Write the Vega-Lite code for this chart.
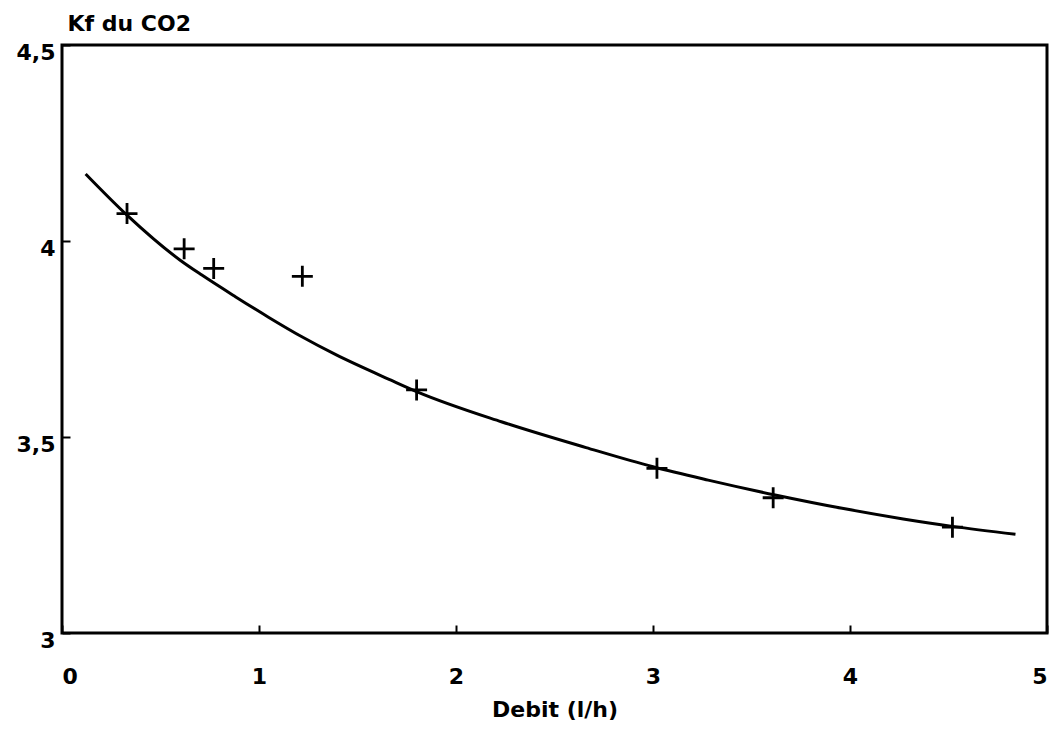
{
  "$schema": "https://vega.github.io/schema/vega-lite/v6.json",
  "width": 985,
  "height": 588,
  "autosize": {"type": "none"},
  "padding": {"left": 62, "top": 45, "right": 8, "bottom": 105},
  "background": "white",
  "config": {
    "view": {"stroke": "black", "strokeWidth": 3},
    "font": "DejaVu Sans",
    "axis": {
      "domain": false,
      "grid": false,
      "labelFont": "DejaVu Sans",
      "labelFontWeight": "bold",
      "labelFontSize": 22,
      "labelColor": "black",
      "titleFont": "DejaVu Sans",
      "titleFontWeight": "bold",
      "titleFontSize": 22,
      "titleColor": "black",
      "tickColor": "black",
      "tickWidth": 2,
      "tickSize": -8
    }
  },
  "datasets": {
    "curve": [
      {"debit": 0.12, "kf": 4.171},
      {"debit": 0.33, "kf": 4.066},
      {"debit": 0.6, "kf": 3.951},
      {"debit": 0.71, "kf": 3.913},
      {"debit": 0.88, "kf": 3.858},
      {"debit": 1.05, "kf": 3.805},
      {"debit": 1.22, "kf": 3.755},
      {"debit": 1.39, "kf": 3.710},
      {"debit": 1.67, "kf": 3.645},
      {"debit": 1.8, "kf": 3.616},
      {"debit": 2.23, "kf": 3.539},
      {"debit": 2.66, "kf": 3.473},
      {"debit": 3.0, "kf": 3.424},
      {"debit": 3.28, "kf": 3.390},
      {"debit": 3.62, "kf": 3.352},
      {"debit": 3.96, "kf": 3.318},
      {"debit": 4.27, "kf": 3.291},
      {"debit": 4.52, "kf": 3.272},
      {"debit": 4.84, "kf": 3.252}
    ],
    "mesures": [
      {"debit": 0.33, "kf": 4.07},
      {"debit": 0.62, "kf": 3.98},
      {"debit": 0.77, "kf": 3.93},
      {"debit": 1.22, "kf": 3.91},
      {"debit": 1.8, "kf": 3.62},
      {"debit": 3.02, "kf": 3.42},
      {"debit": 3.61, "kf": 3.345},
      {"debit": 4.52, "kf": 3.27}
    ]
  },
  "encoding": {
    "x": {
      "field": "debit",
      "type": "quantitative",
      "scale": {"domain": [0, 5], "nice": false, "zero": false},
      "axis": {
        "title": "Debit (l/h)",
        "values": [0, 1, 2, 3, 4, 5],
        "format": "d",
        "labelPadding": 41,
        "titlePadding": 12
      }
    },
    "y": {
      "field": "kf",
      "type": "quantitative",
      "scale": {"domain": [3, 4.5], "nice": false, "zero": false},
      "axis": {
        "title": "Kf du CO2",
        "values": [3, 3.5, 4, 4.5],
        "labelExpr": "replace(format(datum.value, '~g'), '.', ',')",
        "labelPadding": 15,
        "labelOffset": 7,
        "titleAngle": 0,
        "titleAlign": "left",
        "titleBaseline": "alphabetic",
        "titleX": 5,
        "titleY": -15
      }
    }
  },
  "layer": [
    {
      "data": {"name": "curve"},
      "mark": {"type": "line", "color": "black", "strokeWidth": 3, "interpolate": "monotone"}
    },
    {
      "data": {"name": "mesures"},
      "mark": {
        "type": "point",
        "shape": "M-1,0L1,0M0,-1L0,1",
        "size": 440,
        "filled": false,
        "stroke": "black",
        "strokeWidth": 2.8,
        "opacity": 1
      }
    }
  ]
}
